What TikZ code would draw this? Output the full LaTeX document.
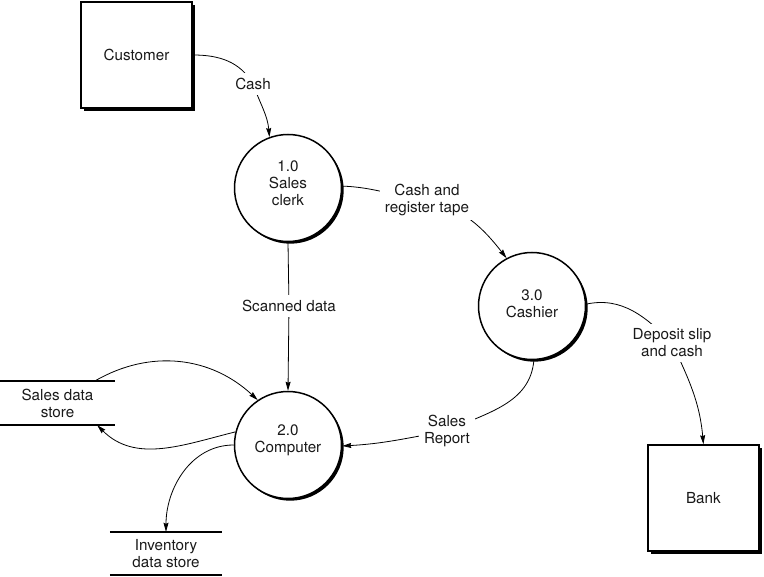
\documentclass[tikz,border=0pt]{standalone}
\usepackage{fontspec}
\setmainfont{TeX Gyre Heros}
\usetikzlibrary{arrows.meta,shadows,backgrounds}
\begin{document}
\begin{tikzpicture}[x=1pt,y=1pt,
  txt/.style={font=\fontsize{15.2}{17}\selectfont, align=center, inner sep=1pt, text=black!90},
  lbl/.style={txt, fill=white, inner sep=5pt},
  ext/.style={draw, line width=2pt, fill=white, inner sep=0pt, minimum width=111pt, minimum height=106pt,
    font=\fontsize{15.2}{17}\selectfont, text=black!90,
    drop shadow={opacity=1,fill=black,shadow xshift=3pt,shadow yshift=-3pt}},
  proc/.style={circle, draw, line width=1.5pt, fill=white, minimum size=107pt, inner sep=0pt,
    drop shadow={opacity=1,fill=black,shadow xshift=2.2pt,shadow yshift=-2.2pt}},
  storebox/.style={txt, inner sep=0pt},
  storeline/.style={line width=2pt},
  flow/.style={line width=0.8pt, -{Stealth[length=9pt,width=5pt,inset=1pt]}}
]
\useasboundingbox (0,0) rectangle (764,-577);

% external entities
\node[ext] (cust) at (136.5,-55) {Customer};
\node[ext] (bank) at (703.4,-498.2) {Bank};

% processes
\node[proc] (c1) at (288,-188) {};
\node[txt] (c1t) at (288,-183.5) {1.0\\Sales\\clerk};
\node[proc] (c3) at (532,-306) {};
\node[txt] (c3t) at (532,-304) {3.0\\Cashier};
\node[proc] (c2) at (288,-445) {};
\node[txt] (c2t) at (288,-440.5) {2.0\\Computer};

% data stores
\node[storebox, minimum width=115pt, minimum height=44pt] (sds) at (57.5,-403) {Sales data\\store};
\draw[storeline] (sds.north west) -- (sds.north east);
\draw[storeline] (sds.south west) -- (sds.south east);
\node[storebox, minimum width=112pt, minimum height=43pt] (inv) at (166,-553.5) {Inventory\\data store};
\draw[storeline] (inv.north west) -- (inv.north east);
\draw[storeline] (inv.south west) -- (inv.south east);

% flow labels
\node[lbl] (cashl) at (253,-84) {Cash};
\node[lbl] (crt) at (427,-199.5) {Cash and\\register tape};
\node[lbl] (sdl) at (289,-306) {Scanned data};
\node[lbl] (dsl) at (672,-343) {Deposit slip\\and cash};
\node[lbl] (srl) at (447,-431) {Sales\\Report};

% flows
\begin{scope}[on background layer]
\draw[flow] (cust.east) to[out=0,in=120] (cashl.center) to[out=-70,in=95] (c1.110);
\draw[flow] (c1.2) to[out=-2,in=175] (crt.center) to[out=-15,in=128] (c3.118);
\draw[flow] (c1.south) -- (sdl.center) -- (c2.north);
\draw[flow] (c3.2) to[out=12,in=135] (dsl.center) to[out=-65,in=95] (bank.north);
\draw[flow] (c3.-88) to[out=-95,in=25] (srl.center) to[out=190,in=3] (c2.-1);
\draw[flow] ([xshift=-20pt]sds.north east) to[out=30,in=137] (c2.124);
\draw[flow] (c2.166) to[out=194,in=-45] ([xshift=-18pt]sds.south east);
\draw[flow] (c2.180) to[out=180,in=90] (inv.north);
\end{scope}
\end{tikzpicture}
\end{document}
